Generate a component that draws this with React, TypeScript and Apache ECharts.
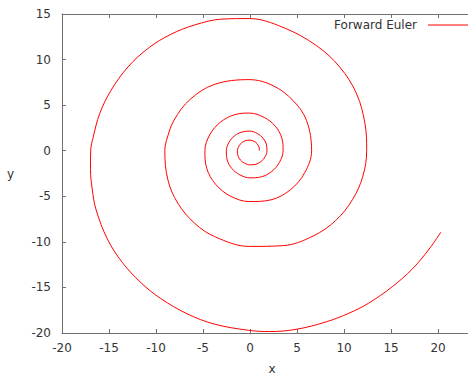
import React, { useEffect, useRef } from "react";
import * as echarts from "echarts";

// Forward Euler trajectory (x, y)
const eulerX: number[] = [
  1.0, 0.96, 0.76, 0.43, 0.0, -0.46, -0.88, -1.19, -1.34, -1.29, -1.02, -0.57, 0.0, 0.62, 1.18, 1.6,
  1.8, 1.73, 1.38, 0.78, -0.05, -0.85, -1.64, -2.23, -2.52, -2.43, -1.94, -1.09, 0.0, 1.19, 2.29, 3.12,
  3.52, 3.38, 2.69, 1.51, -0.05, -1.64, -3.14, -4.27, -4.8, -4.61, -3.67, -2.07, -0.05, 2.23, 4.29, 5.82,
  6.55, 6.01, 4.58, 2.45, -0.1, -3.8, -6.37, -8.08, -8.88, -9.06, -8.74, -7.68, -5.89, -3.75, -0.09,
  3.57, 6.71, 9.12, 10.92, 12.0, 12.41,
  12.23, 11.34, 9.56, 7.08, 3.52, -0.1, -2.99, -5.88, -8.44, -10.78, -12.98, -14.79, -15.98, -16.68,
  -16.95, -16.97, -16.79, -16.39, -15.18, -13.6, -11.58, -9.48, -6.69, -3.8, -0.17, 2.09, 4.89, 8.12,
  10.54, 12.61, 15.13, 17.3, 19.06, 20.3,
];
const eulerY: number[] = [
  0.0, 0.4, 0.76, 1.03, 1.16, 1.11, 0.88, 0.49, 0.0, -0.53, -1.02, -1.38, -1.55, -1.49, -1.18, -0.66,
  0.0, 0.72, 1.38, 1.89, 2.15, 2.05, 1.64, 0.92, 0.0, -1.0, -1.94, -2.64, -2.98, -2.87, -2.29, -1.29,
  0.0, 1.4, 2.69, 3.65, 4.13, 3.95, 3.14, 1.77, 0.0, -1.91, -3.67, -4.99, -5.58, -5.39, -4.29, -2.41,
  0.0, 3.32, 5.5, 7.14, 7.8, 7.27, 5.63, 3.35, 1.14, 0.0, -3.18, -5.76, -7.96, -9.43, -10.5,
  -10.41, -9.36, -7.65, -5.33, -2.8, 0.0,
  2.96, 6.23, 9.16, 11.52, 13.53, 14.5, 14.44, 13.8, 12.76, 11.28, 9.19, 6.61, 4.1, 1.49,
  0.0, -2.08, -4.19, -6.42, -9.67, -12.24, -14.5, -16.23, -17.89, -19.02, -19.7, -19.84, -19.6, -18.77,
  -17.82, -16.73, -14.92, -12.94, -10.78, -8.94,
];
const seriesName = "Forward Euler";
const xMin = -20;
const xMax = 23.4;
const yMin = -20;
const yMax = 15;
const tickStep = 5;

export default function App() {
  const ref = useRef<HTMLDivElement>(null);
  useEffect(() => {
    if (!ref.current) return;
    const chart = echarts.init(ref.current, undefined, { renderer: "svg" });
    const font = "DejaVu Sans";
    const axisColor = "#707070";
    const labelColor = "#333333";
    const data = eulerX.map((x, i) => [x, eulerY[i]]);
    const fmt = (v: number) => (Math.abs(v % tickStep) < 1e-9 ? String(v) : "");
    chart.setOption({
      animation: false,
      backgroundColor: "#ffffff",
      grid: {
        left: 62,
        right: -2,
        top: 14,
        bottom: 42,
        containLabel: false,
        outerBoundsMode: "none",
      },
      legend: {
        right: -4,
        top: 19,
        padding: 0,
        align: "right",
        itemWidth: 44,
        itemHeight: 14,
        textStyle: { fontFamily: font, fontSize: 12, color: labelColor, padding: [0, 6, 0, 0] },
        data: [{ name: seriesName, icon: "path://M0,0L40,0L40,1L0,1Z" }],
      },
      xAxis: [
        {
          type: "value",
          min: xMin,
          max: xMax,
          interval: tickStep,
          name: "x",
          nameLocation: "middle",
          nameGap: 30,
          nameTextStyle: { fontFamily: font, fontSize: 12, color: labelColor, padding: [0, 0, 0, 12] },
          axisLine: { show: true, onZero: false, lineStyle: { color: axisColor, width: 1 } },
          axisTick: { show: true, inside: true, length: 4, lineStyle: { color: axisColor } },
          axisLabel: {
            fontFamily: font,
            fontSize: 12,
            color: labelColor,
            margin: 9,
            showMaxLabel: false,
            formatter: fmt,
          },
          splitLine: { show: false },
        },
        {
          type: "value",
          position: "top",
          min: xMin,
          max: xMax,
          interval: tickStep,
          axisLine: { show: true, onZero: false, lineStyle: { color: axisColor, width: 1 } },
          axisTick: { show: true, inside: true, length: 4, lineStyle: { color: axisColor } },
          axisLabel: { show: false },
          splitLine: { show: false },
        },
      ],
      yAxis: {
        type: "value",
        min: yMin,
        max: yMax,
        interval: tickStep,
        name: "y",
        nameLocation: "middle",
        nameRotate: 0,
        nameGap: 48,
        nameTextStyle: { fontFamily: font, fontSize: 12, color: labelColor, padding: [4, 0, 0, 0] },
        axisLine: { show: true, onZero: false, lineStyle: { color: axisColor, width: 1 } },
        axisTick: { show: true, inside: true, length: 4, lineStyle: { color: axisColor } },
        axisLabel: { fontFamily: font, fontSize: 12, color: labelColor, margin: 11 },
        splitLine: { show: false },
      },
      series: [
        {
          name: seriesName,
          type: "line",
          data,
          smooth: 0.36,
          symbol: "none",
          showSymbol: false,
          lineStyle: { color: "#ff0000", width: 1 },
          itemStyle: { color: "#ff0000" },
          clip: true,
        },
      ],
    });
    return () => chart.dispose();
  }, []);
  return (
    <div
      ref={ref}
      style={{ position: "fixed", left: 0, top: 0, width: 468, height: 375 }}
    />
  );
}
